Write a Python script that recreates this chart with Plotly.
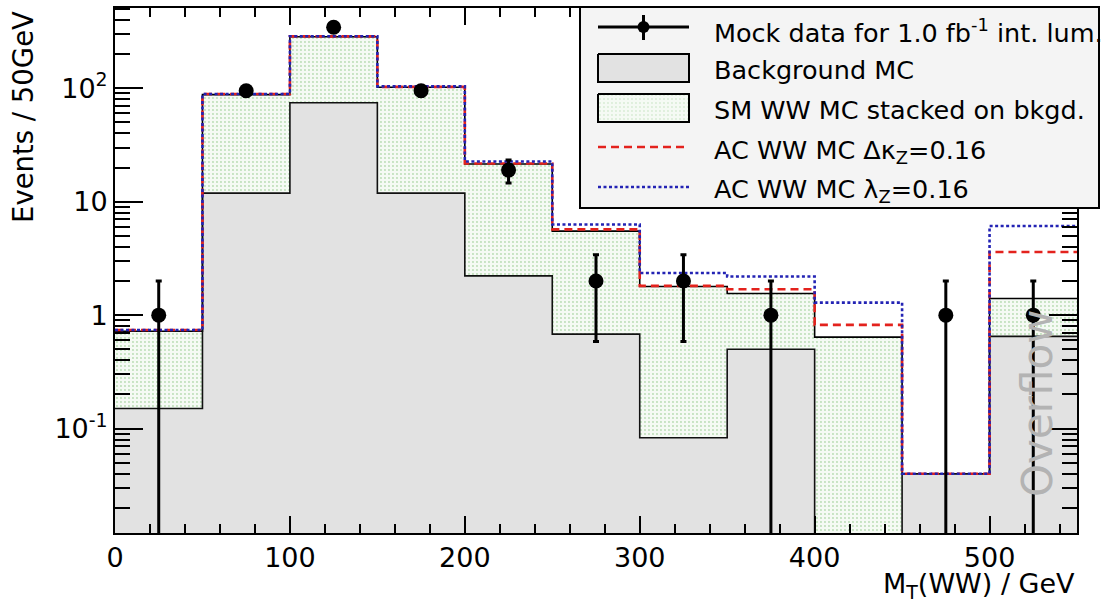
import numpy as np
import plotly.graph_objects as go

# ---- histogram content (50 GeV bins, last bin holds the overflow) ----
bin_edges = [0, 50, 100, 150, 200, 250, 300, 350, 400, 450, 500, 550]
bin_centers = [25, 75, 125, 175, 225, 275, 325, 375, 425, 475, 525]
background_mc = [0.15, 11.9, 74.6, 11.9, 2.22, 0.68, 0.083, 0.50, 0.0, 0.04, 0.65]
sm_ww_stacked = [0.72, 88.0, 285.0, 102.0, 21.5, 5.5, 1.79, 1.55, 0.64, 0.04, 1.40]
ac_dkappa_z = [0.74, 89.0, 287.0, 103.0, 21.7, 5.7, 1.81, 1.69, 0.82, 0.04, 3.6]
ac_lambda_z = [0.74, 89.0, 288.0, 104.0, 22.6, 6.3, 2.35, 2.19, 1.29, 0.04, 6.1]
mock_data = [1, 95, 345, 95, 19, 2, 2, 1, 0, 1, 1]

y_tick_vals = [0.1, 1, 10, 100]
y_tick_text = ["10<sup>-1</sup>", "1", "10", "10<sup>2</sup>"]

legend_labels = [
    "Mock data for 1.0 fb<sup>-1</sup> int. lum.",
    "Background MC",
    "SM WW MC stacked on bkgd.",
    "AC WW MC \u0394\u03ba<sub>Z</sub>=0.16",
    "AC WW MC \u03bb<sub>Z</sub>=0.16",
]

# ---- page geometry ----
W, H = 1113, 604
M_L, M_R, M_T, M_B = 115, 10, 5, 71
PAPER_W = W - M_L - M_R
PAPER_H = H - M_T - M_B
FRAME_L, FRAME_R, FRAME_T, FRAME_B = 115, 1077, 8, 533


def px_x(px):
    return (px - M_L) / PAPER_W


def px_y(py):
    return (H - M_B - py) / PAPER_H


FONT = "DejaVu Sans"
Y_LOG_RANGE = [-1.921, 2.708]
FLOOR = 10 ** (Y_LOG_RANGE[0] - 1)

GREY_FILL = "#e2e2e2"
GREEN_BG = "#f5faf4"
GREEN_DOT = "#b9dcb3"
RED = "#e3221d"
BLUE = "#2323b4"

centers = np.array(bin_centers, float)


def positive_or_none(vals):
    return [v if v > 0 else None for v in vals]


def step_xy(vals):
    v = np.maximum(np.asarray(vals, float), FLOOR)
    return bin_edges, np.append(v, v[-1])


fig = go.Figure()

# stacked SM WW on top of background: full stack first, background painted over it
fig.add_trace(go.Bar(
    x=bin_centers, y=positive_or_none(sm_ww_stacked), width=50,
    marker=dict(color=GREEN_BG, line=dict(width=0),
                pattern=dict(shape=".", fgcolor=GREEN_DOT, bgcolor=GREEN_BG,
                             size=4, solidity=0.18, fillmode="replace")),
    hoverinfo="skip", showlegend=False))
fig.add_trace(go.Bar(
    x=bin_centers, y=positive_or_none(background_mc), width=50,
    marker=dict(color=GREY_FILL, line=dict(width=0)),
    hoverinfo="skip", showlegend=False))

# histogram outlines
for vals, color, width, dash in [
    (sm_ww_stacked, "black", 1.6, "solid"),
    (background_mc, "#111111", 1.6, "solid"),
    (ac_dkappa_z, RED, 2.6, "8px,5px"),
    (ac_lambda_z, BLUE, 2.6, "3px,2.5px"),
]:
    sx, sy = step_xy(vals)
    fig.add_trace(go.Scatter(
        x=sx, y=sy, mode="lines", line=dict(shape="hv", color=color, width=width, dash=dash),
        hoverinfo="skip", showlegend=False))

# mock data with Poisson errors
n = np.array(mock_data, float)
err = np.sqrt(n)
low = np.maximum(n - err, FLOOR)
has = n > 0
fig.add_trace(go.Scatter(
    x=centers[has], y=n[has], mode="markers",
    marker=dict(size=15, color="black", symbol="circle"),
    error_y=dict(type="data", symmetric=False, array=err[has], arrayminus=(n - low)[has],
                 thickness=3, width=3, color="black"),
    hoverinfo="skip", showlegend=False))

# ---- legend drawn in its own overlay panel (pixel coordinates) ----
LX0, LX1, LY0, LY1 = 578, 1101, 5, 210
box_l, box_r, box_t, box_b = 580, 1099, 7, 208
g_l, g_r = 598, 689
g_mid = (g_l + g_r) / 2


def leg(**kw):
    kw.setdefault("hoverinfo", "skip")
    kw.setdefault("showlegend", False)
    return go.Scatter(xaxis="x2", yaxis="y2", **kw)


fig.add_trace(leg(x=[box_l, box_r, box_r, box_l, box_l], y=[box_t, box_t, box_b, box_b, box_t],
                  mode="lines", fill="toself", fillcolor="#f4f4f4",
                  line=dict(color="black", width=2)))
# data entry
fig.add_trace(leg(x=[g_l, g_r], y=[27, 27], mode="lines", line=dict(color="black", width=3)))
fig.add_trace(leg(x=[g_mid, g_mid], y=[15, 40], mode="lines", line=dict(color="black", width=3)))
fig.add_trace(leg(x=[g_mid], y=[27], mode="markers", marker=dict(size=12, color="black")))
# background entry
fig.add_trace(leg(x=[g_l, g_r, g_r, g_l, g_l], y=[54, 54, 82, 82, 54], mode="lines", fill="toself",
                  fillcolor=GREY_FILL, line=dict(color="black", width=2)))
# SM WW entry
fig.add_trace(leg(x=[g_l, g_r, g_r, g_l, g_l], y=[94, 94, 122, 122, 94], mode="lines", fill="toself",
                  fillcolor=GREEN_BG,
                  fillpattern=dict(shape=".", fgcolor=GREEN_DOT, bgcolor=GREEN_BG, size=4, solidity=0.18),
                  line=dict(color="black", width=2)))
# AC entries
fig.add_trace(leg(x=[g_l, g_r], y=[147, 147], mode="lines", line=dict(color=RED, width=2.6, dash="8px,5px")))
fig.add_trace(leg(x=[g_l, g_r], y=[187, 187], mode="lines", line=dict(color=BLUE, width=2.6, dash="3px,2.5px")))

annotations = []
for label, yc in zip(legend_labels, [31, 70, 110, 151, 190]):
    annotations.append(dict(text=label, xref="x2", yref="y2", x=712, y=yc, xanchor="left", yanchor="middle",
                            showarrow=False, font=dict(family=FONT, size=25.5, color="black")))

# axis titles and overflow marker
annotations.append(dict(text="M<sub>T</sub>(WW) / GeV", xref="paper", yref="paper",
                        x=px_x(FRAME_R), y=px_y(585), xanchor="right", yanchor="middle", showarrow=False,
                        font=dict(family=FONT, size=27, color="black")))
annotations.append(dict(text="Events / 50GeV", xref="paper", yref="paper", textangle=-90,
                        x=px_x(23), y=px_y(9), xanchor="center", yanchor="top", showarrow=False,
                        font=dict(family=FONT, size=27.5, color="black")))
annotations.append(dict(text="Overflow", xref="paper", yref="paper", textangle=-90,
                        x=px_x(1037), y=px_y(403), xanchor="center", yanchor="middle", showarrow=False,
                        font=dict(family=FONT, size=42, color="#b3b3b3")))

minor_y = [k * 10.0 ** e for e in range(-2, 3) for k in range(2, 10)]
minor_y = [v for v in minor_y if Y_LOG_RANGE[0] < np.log10(v) < Y_LOG_RANGE[1]]

axis_common = dict(showline=True, linecolor="black", linewidth=2, mirror="allticks",
                   ticks="inside", tickcolor="black", tickwidth=2,
                   showgrid=False, zeroline=False,
                   tickfont=dict(family=FONT, size=27, color="black"))

fig.update_layout(
    width=W, height=H,
    margin=dict(l=M_L, r=M_R, t=M_T, b=M_B),
    paper_bgcolor="white", plot_bgcolor="rgba(0,0,0,0)",
    barmode="overlay", bargap=0, showlegend=False,
    xaxis=dict(domain=[0, px_x(FRAME_R)], range=[0, 550], tick0=0, dtick=100, ticklen=17,
               minor=dict(dtick=20, tick0=0, ticks="inside", ticklen=9, tickwidth=2, tickcolor="black"),
               anchor="y", **axis_common),
    yaxis=dict(domain=[0, px_y(FRAME_T)], type="log", range=Y_LOG_RANGE,
               tickmode="array", tickvals=y_tick_vals, ticktext=y_tick_text, ticklen=28,
               minor=dict(tickmode="array", tickvals=minor_y, ticks="inside", ticklen=15,
                          tickwidth=2, tickcolor="black"),
               anchor="x", **axis_common),
    xaxis2=dict(domain=[px_x(LX0), px_x(LX1)], range=[LX0, LX1], visible=False, anchor="y2", fixedrange=True),
    yaxis2=dict(domain=[px_y(LY1), px_y(LY0)], range=[LY1, LY0], visible=False, anchor="x2", fixedrange=True),
    annotations=annotations,
)

fig.write_html("out.html")
